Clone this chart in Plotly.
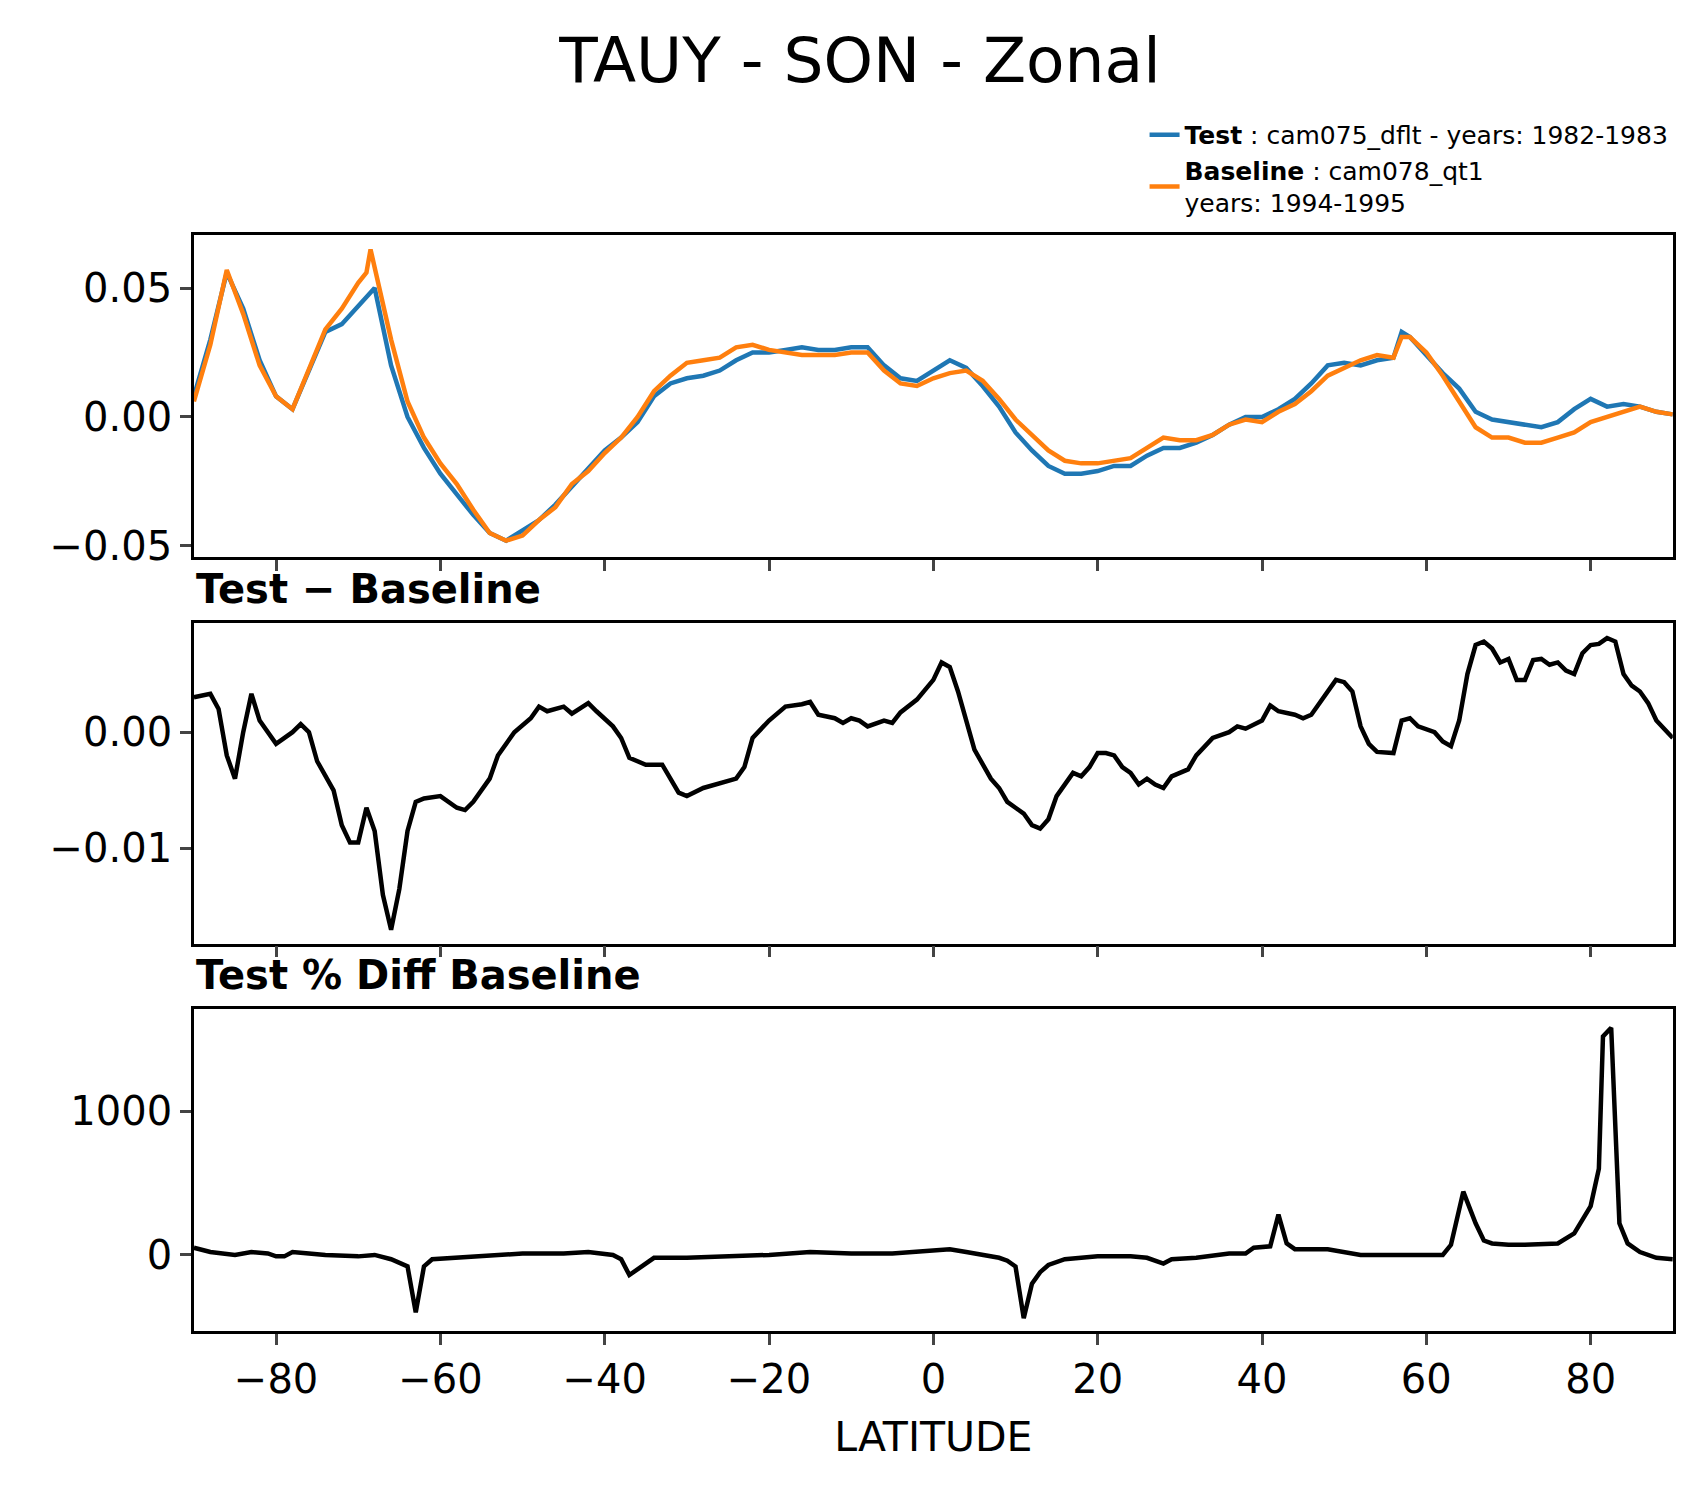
import plotly.graph_objects as go

lat_t = [-90,-88,-86,-84,-82,-80,-78,-76,-74,-72,-70,-68,-66,-64,-62,-60,-58,-56,-54,-52,-50,-48,-46,-44,-42,-40,-38,-36,-34,-32,-30,-28,-26,-24,-22,-20,-18,-16,-14,-12,-10,-8,-6,-4,-2,0,2,4,6,8,10,12,14,16,18,20,22,24,26,28,30,32,34,36,38,40,42,44,46,48,50,52,54,56,57,58,60,62,64,66,68,70,72,74,76,78,80,82,84,86,88,90]
test = [0.008,0.030,0.056,0.042,0.022,0.008,0.003,0.018,0.033,0.036,0.043,0.050,0.020,0.000,-0.012,-0.022,-0.030,-0.038,-0.045,-0.048,-0.044,-0.040,-0.034,-0.027,-0.020,-0.013,-0.008,-0.002,0.008,0.013,0.015,0.016,0.018,0.022,0.025,0.025,0.026,0.027,0.026,0.026,0.027,0.027,0.020,0.015,0.014,0.018,0.022,0.019,0.012,0.004,-0.006,-0.013,-0.019,-0.022,-0.022,-0.021,-0.019,-0.019,-0.015,-0.012,-0.012,-0.010,-0.007,-0.003,0.000,0.000,0.003,0.007,0.013,0.020,0.021,0.020,0.022,0.023,0.033,0.031,0.024,0.017,0.011,0.002,-0.001,-0.002,-0.003,-0.004,-0.002,0.003,0.007,0.004,0.005,0.004,0.002,0.001]
lat_b = [-90,-88,-86,-84,-82,-80,-78,-76,-74,-72,-70,-69,-68.5,-68,-66,-64,-62,-60,-58,-56,-54,-52,-50,-48,-46,-44,-42,-40,-38,-36,-34,-32,-30,-28,-26,-24,-22,-20,-18,-16,-14,-12,-10,-8,-6,-4,-2,0,2,4,6,8,10,12,14,16,18,20,22,24,26,28,30,32,34,36,38,40,42,44,46,48,50,52,54,56,57,58,60,62,64,66,68,70,72,74,76,78,80,82,84,86,88,90]
base = [0.006,0.028,0.057,0.040,0.020,0.008,0.003,0.018,0.034,0.042,0.052,0.056,0.065,0.058,0.030,0.006,-0.008,-0.018,-0.026,-0.036,-0.045,-0.048,-0.046,-0.040,-0.035,-0.026,-0.021,-0.014,-0.008,0.000,0.010,0.016,0.021,0.022,0.023,0.027,0.028,0.026,0.025,0.024,0.024,0.024,0.025,0.025,0.018,0.013,0.012,0.015,0.017,0.018,0.014,0.007,-0.001,-0.007,-0.013,-0.017,-0.018,-0.018,-0.017,-0.016,-0.012,-0.008,-0.009,-0.009,-0.007,-0.003,-0.001,-0.002,0.002,0.005,0.010,0.016,0.019,0.022,0.024,0.023,0.031,0.031,0.025,0.016,0.006,-0.004,-0.008,-0.008,-0.010,-0.010,-0.008,-0.006,-0.002,0.000,0.002,0.004,0.002,0.001]

lat_d = [-90,-88,-87,-86,-85,-84,-83,-82,-80,-78,-77,-76,-75,-73,-72,-71,-70,-69,-68,-67,-66,-65,-64,-63,-62,-60,-58,-57,-56,-54,-53,-51,-49,-48,-47,-45,-44,-42,-41,-39,-38,-37,-35,-33,-31,-30,-28,-26,-24,-23,-22,-20,-18,-16,-15,-14,-12,-11,-10,-9,-8,-6,-5,-4,-2,0,1,2,3,5,7,8,9,10,11,12,13,14,15,17,18,19,20,21,22,23,24,25,26,27,28,29,31,32,34,36,37,38,40,41,42,44,45,46,47,49,50,51,52,53,54,56,57,58,59,61,62,63,64,65,66,67,68,69,70,71,72,73,74,75,76,77,78,79,80,81,82,83,84,85,86,87,88,89,90]
diff = [0.0030,0.0033,0.0020,-0.0020,-0.0040,0.0000,0.0033,0.0010,-0.0010,0.0000,0.0007,0.0000,-0.0025,-0.0050,-0.0080,-0.0095,-0.0095,-0.0065,-0.0085,-0.0140,-0.0170,-0.0135,-0.0085,-0.0060,-0.0057,-0.0055,-0.0065,-0.0067,-0.0060,-0.0040,-0.0020,0.0000,0.0012,0.0022,0.0018,0.0022,0.0016,0.0025,0.0018,0.0005,-0.0005,-0.0022,-0.0028,-0.0028,-0.0052,-0.0055,-0.0048,-0.0044,-0.0040,-0.0030,-0.0005,0.0010,0.0022,0.0024,0.0026,0.0015,0.0012,0.0008,0.0012,0.0010,0.0005,0.0010,0.0008,0.0017,0.0028,0.0045,0.0060,0.0056,0.0035,-0.0015,-0.0040,-0.0048,-0.0060,-0.0065,-0.0070,-0.0080,-0.0083,-0.0075,-0.0055,-0.0035,-0.0038,-0.0030,-0.0018,-0.0018,-0.0020,-0.0030,-0.0035,-0.0045,-0.0040,-0.0045,-0.0048,-0.0038,-0.0032,-0.0020,-0.0005,0.0000,0.0005,0.0003,0.0010,0.0023,0.0018,0.0015,0.0012,0.0015,0.0025,0.0045,0.0043,0.0035,0.0005,-0.0010,-0.0017,-0.0018,0.0010,0.0012,0.0005,0.0000,-0.0008,-0.0012,0.0010,0.0050,0.0075,0.0078,0.0072,0.0060,0.0063,0.0045,0.0045,0.0062,0.0063,0.0058,0.0060,0.0053,0.0050,0.0068,0.0075,0.0076,0.0081,0.0078,0.0050,0.0040,0.0035,0.0025,0.0010,0.0002,-0.0005]

lat_p = [-90,-88,-85,-83,-81,-80,-79,-78,-76,-74,-70,-68,-66,-64,-63,-62,-61,-58,-54,-50,-45,-42,-39,-38,-37,-35,-34,-30,-25,-20,-15,-10,-5,0,2,4,6,8,9,10,11,12,13,14,16,20,24,26,28,29,32,36,38,39,41,42,43,44,48,52,56,60,62,63,64.5,66,67,68,70,72,76,78,80,81,81.5,82.5,83.5,84.5,86,88,90]
pct = [50,20,0,20,10,-10,-10,20,10,0,-10,0,-30,-80,-400,-80,-30,-20,0,10,10,20,0,-30,-140,-60,-20,-20,-10,0,20,10,10,30,40,20,0,-20,-40,-80,-440,-200,-120,-70,-30,-10,-10,-20,-60,-30,-20,10,10,50,60,280,80,40,40,0,0,0,0,70,440,220,100,80,70,70,80,150,340,600,1520,1580,220,80,20,-20,-30]

xdom = [0.1091, 0.977]
doms = [[0.630, 0.847], [0.3699, 0.5859], [0.1090, 0.3258]]
F = "DejaVu Sans"

fig = go.Figure()
fig.add_trace(go.Scatter(x=lat_t, y=test, mode="lines", line=dict(color="#1f77b4", width=4.5),
                         name="<b>Test</b> : cam075_dflt - years: 1982-1983", xaxis="x", yaxis="y"))
fig.add_trace(go.Scatter(x=lat_b, y=base, mode="lines", line=dict(color="#ff7f0e", width=4.5),
                         name="<b>Baseline</b> : cam078_qt1<br>years: 1994-1995", xaxis="x", yaxis="y"))
fig.add_trace(go.Scatter(x=lat_d, y=diff, mode="lines", line=dict(color="black", width=4.5),
                         showlegend=False, xaxis="x2", yaxis="y2"))
fig.add_trace(go.Scatter(x=lat_p, y=pct, mode="lines", line=dict(color="black", width=4.5),
                         showlegend=False, xaxis="x3", yaxis="y3"))

ax = dict(showline=True, linecolor="black", linewidth=2.5, mirror=True, ticks="outside",
          ticklen=11, tickwidth=2.5, showgrid=False, zeroline=False, tickfont=dict(size=40, color="black"))
lay = dict(width=1704, height=1496, margin=dict(l=0, r=0, t=0, b=0),
           plot_bgcolor="white", paper_bgcolor="white", font=dict(family=F, color="black"),
           title=dict(text="TAUY - SON - Zonal", x=0.5, xanchor="center", y=0.965, yanchor="middle",
                      font=dict(size=63)),
           legend=dict(x=0.667, y=0.93, xanchor="left", yanchor="top", font=dict(size=25),
                       bgcolor="rgba(0,0,0,0)", tracegroupgap=22))
for i, d in enumerate(doms):
    k = "" if i == 0 else str(i + 1)
    xa = dict(ax, domain=xdom, range=[-90, 90], tickvals=[-80, -60, -40, -20, 0, 20, 40, 60, 80],
              anchor="y" + k, showticklabels=(i == 2))
    if i == 2:
        xa["title"] = dict(text="LATITUDE", font=dict(size=41), standoff=22)
        xa["ticktext"] = ["\u221280", "\u221260", "\u221240", "\u221220", "0", "20", "40", "60", "80"]
    lay["xaxis" + k] = xa
lay["yaxis"] = dict(ax, domain=doms[0], anchor="x", range=[-0.0545, 0.0705],
                    tickvals=[-0.05, 0, 0.05], ticktext=["\u22120.05", "0.00", "0.05"])
lay["yaxis2"] = dict(ax, domain=doms[1], anchor="x2", range=[-0.0182, 0.0094],
                     tickvals=[-0.01, 0], ticktext=["\u22120.01", "0.00"])
lay["yaxis3"] = dict(ax, domain=doms[2], anchor="x3", range=[-530, 1709],
                     tickvals=[0, 1000], ticktext=["0", "1000"])
lay["annotations"] = [
    dict(text="<b>Test \u2212 Baseline</b>", x=xdom[0], y=doms[1][1] + 0.006, xref="paper", yref="paper",
         xanchor="left", yanchor="bottom", showarrow=False, font=dict(size=40)),
    dict(text="<b>Test % Diff Baseline</b>", x=xdom[0], y=doms[2][1] + 0.006, xref="paper", yref="paper",
         xanchor="left", yanchor="bottom", showarrow=False, font=dict(size=40)),
]
fig.update_layout(**lay)
fig.write_html("out.html")
